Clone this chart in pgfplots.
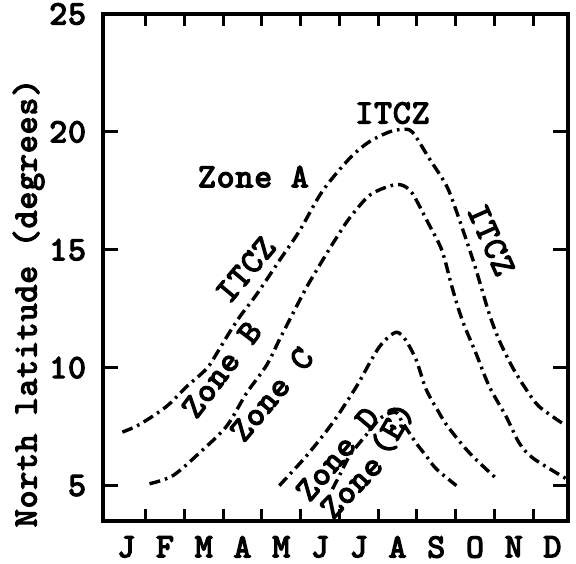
\documentclass[border=0pt]{standalone}
\usepackage{fontspec}
\newfontfamily\lmtt{lmmono10-regular.otf}[AutoFakeBold=4, LetterSpace=3]
\usepackage{pgfplots}
\pgfplotsset{compat=1.18}
\begin{document}
\begin{tikzpicture}[font=\fontsize{17}{20}\selectfont\lmtt\bfseries]
\begin{axis}[
    scale only axis,
    width=232.5bp, height=253.5bp,
    xmin=0.4, xmax=12.4, ymin=3.5, ymax=25,
    axis line style={line width=2bp},
    tick pos=both,
    tick align=inside,
    xtick={1,...,12},
    xticklabels={J,F,M,A,M,J,J,A,S,O,N,D},
    minor xtick={1.5,2.5,...,11.5},
    ytick={5,10,15,20,25},
    major x tick style={draw=none},
    minor tick style={line width=1.5bp, black},
    ytick style={line width=1.5bp, black},
    minor tick length=6bp,
    major tick length=7.5bp,
    /pgf/number format/assume math mode=true,
    yticklabel style={xshift=-5bp},
    xticklabel style={inner sep=1bp, yshift=-6.5bp},
    ylabel={North latitude (degrees)},
    ylabel style={at={(axis description cs:-0.16,0.43)}, anchor=center, inner sep=1bp},
    cycle list={{black}},
    no markers,
    every axis plot/.append style={line width=1.7bp, smooth,
        dash pattern=on 5.5bp off 2.5bp on 1.3bp off 2.5bp},
]
% ITCZ
\addplot coordinates {(0.9,7.27)(1.35,7.6)(2.04,8.36)(2.56,9.2)(3.07,9.95)(3.33,10.59)
    (3.59,11.3)(3.92,12.14)(4.36,13.1)(4.95,14.54)(5.47,15.8)(6.06,17.48)(6.76,18.87)
    (7.27,19.58)(7.79,20.0)(8.1,20.1)(8.38,20.0)(8.82,18.87)(9.26,17.73)(9.52,16.64)
    (9.93,14.66)(10.11,13.7)(10.37,12.27)(10.62,11.18)(10.96,10.04)(11.32,9.08)
    (11.65,8.36)(12.25,7.65)};
% zone B / C
\addplot coordinates {(1.6,5.08)(2.2,5.42)(2.89,6.39)(3.59,7.52)(4.1,8.91)(4.62,10.1)
    (4.95,11.18)(5.25,12.14)(5.65,13.4)(6.06,14.54)(6.42,15.5)(6.76,16.34)(7.27,17.3)
    (7.79,17.7)(8.1,17.75)(8.38,17.4)(8.82,16.05)(9.15,14.96)(9.41,13.4)(9.67,12.02)
    (10.03,10.59)(10.37,9.2)(10.8,7.94)(11.14,6.81)(11.47,6.2)(12.09,5.55)(12.35,5.3)};
% zone C / D
\addplot coordinates {(4.95,5.0)(5.65,6.26)(6.32,7.65)(6.94,9.2)(7.27,10.17)(7.53,10.88)
    (7.8,11.35)(8.0,11.5)(8.2,11.2)(8.48,10.34)(8.74,9.08)(9.08,8.07)(9.3,7.5)
    (9.85,6.4)(10.55,5.3)};
% zone D / E
\addplot coordinates {(6.32,4.85)(6.5,5.42)(6.76,6.26)(7.02,6.81)(7.27,7.3)(7.53,7.82)
    (7.79,8.07)(8.0,8.07)(8.12,7.7)(8.48,6.81)(8.74,6.26)(9.0,5.71)(9.52,5.0)};

\begin{scope}[every node/.style={inner sep=0.5bp}]
\node at (axis cs:7.87,20.8) {ITCZ};
\node at (axis cs:4.28,18.1) {Zone A};
\node[rotate=50] at (axis cs:4.08,14.16) {ITCZ};
\node[rotate=53] at (axis cs:3.46,9.92) {Zone B};
\node[rotate=50] at (axis cs:4.75,8.87) {Zone C};
\node[rotate=-66] at (axis cs:10.42,15.42) {ITCZ};
\node[rotate=50] at (axis cs:6.45,6.34) {Zone D};
\node[rotate=46] at (axis cs:6.81,4.96) {Zone};
\node[rotate=60] at (axis cs:7.87,7.4) {(E)};
\end{scope}
\end{axis}
\pgfresetboundingbox
\path[use as bounding box] ([shift={(-51.5bp,-21.5bp)}]current axis.south west)
    rectangle ([shift={(4bp,7bp)}]current axis.north east);
\end{tikzpicture}
\end{document}
